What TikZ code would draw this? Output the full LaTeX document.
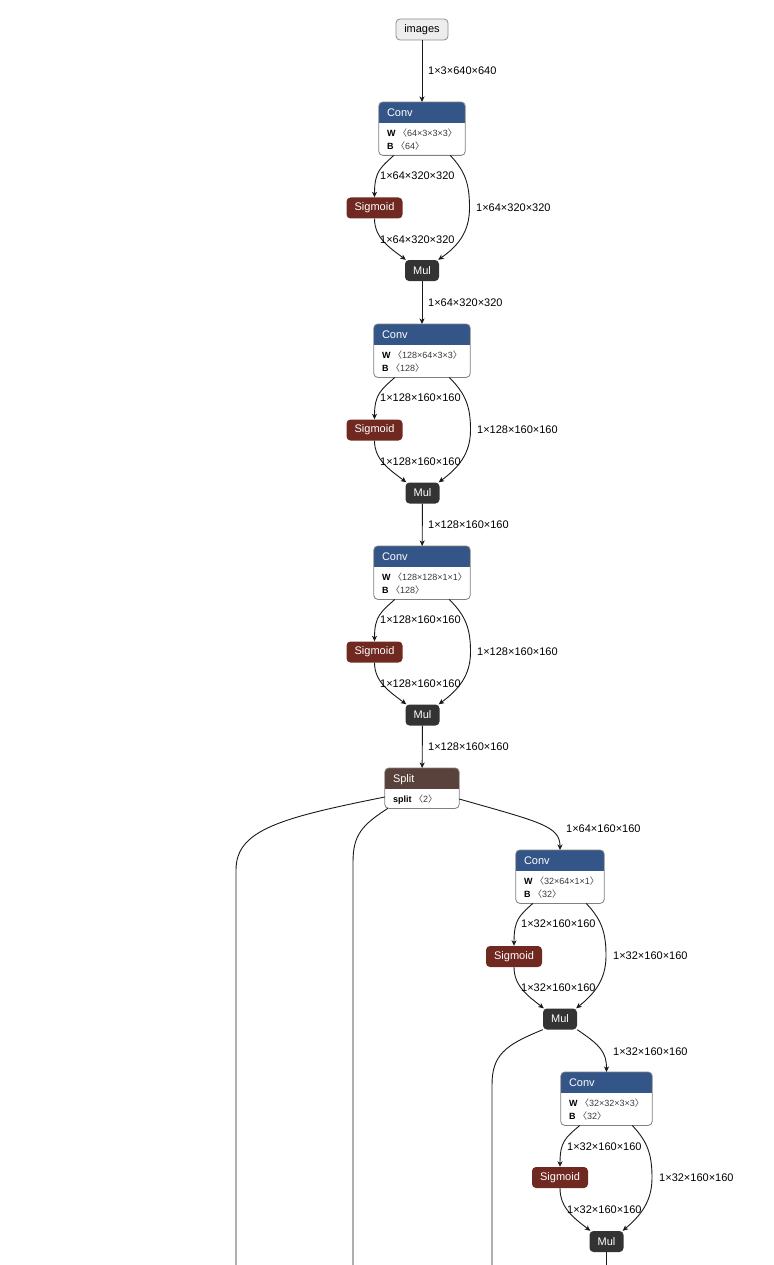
\documentclass[tikz,border=0pt]{standalone}
\usepackage{fontspec}
\setmainfont{Liberation Sans}
\newfontfamily\cjk{Noto Sans CJK SC}
\usetikzlibrary{arrows.meta}
\definecolor{convblue}{RGB}{51,85,136}
\definecolor{actred}{RGB}{112,41,33}
\definecolor{splitbrown}{RGB}{89,66,59}
\definecolor{muldark}{RGB}{51,51,51}
\newcommand\angL{{\cjk 〈}}
\newcommand\angR{{\cjk 〉}}
\newcommand\fsize[1]{\fontsize{#1}{#1}\selectfont}
\newcommand\attr[2]{\textbf{#1} {\color{black!78}\angL#2\angR}}

\tikzset{
 edge/.style={draw=black!90, line width=0.9pt, -{Stealth[length=5.5pt,width=5pt,inset=1.5pt]}},
 plain/.style={draw=black!90, line width=0.9pt},
 lbl/.style={anchor=west, inner sep=0pt, font=\fsize{11}},
 opsmall/.style={rounded corners=4pt, minimum height=21pt, inner sep=0pt, text=white, font=\fsize{11}},
 sigbox/.style={opsmall, fill=actred, minimum width=56pt},
 mulbox/.style={opsmall, fill=muldark, minimum width=34pt},
 inbox/.style={rounded corners=4pt, minimum height=21pt, minimum width=52pt, inner sep=0pt, fill=black!7, draw=black!45, line width=0.8pt, font=\fsize{11}},
 bigbox/.style={rectangle, inner sep=0pt, anchor=north},
 boxline/.style={draw=black!50, line width=0.8pt, rounded corners=4pt},
 headtxt/.style={anchor=base west, inner sep=0pt, text=white, font=\fsize{11}},
 bodytxt/.style={anchor=base west, inner sep=0pt, font=\fsize{9}},
}

% name, cx, top, width, height, colour, title, first body line
\newcommand\opnode[8]{%
 \node[bigbox, minimum width=#4, minimum height=#5] (#1) at (#2,#3) {};
 \begin{scope}
 \clip[rounded corners=4pt] (#1.north west) rectangle (#1.south east);
 \fill[#6] (#1.north west) rectangle ([yshift=-21pt]#1.north east);
 \end{scope}
 \draw[boxline] (#1.north west) rectangle (#1.south east);
 \node[headtxt] at ([xshift=8pt,yshift=-14.5pt]#1.north west) {#7};
 \node[bodytxt] at ([xshift=8pt,yshift=-34.2pt]#1.north west) {#8};
}
% name, cx, top, width, W, B
\newcommand\convnode[6]{%
 \opnode{#1}{#2}{#3}{#4}{53}{convblue}{Conv}{\attr{W}{#5}}
 \node[bodytxt] at ([xshift=8pt,yshift=-47.2pt]#1.north west) {\attr{B}{#6}};
}

\begin{document}
\begin{tikzpicture}[x=1pt,y=-1pt]
\useasboundingbox (0,0) rectangle (773,1265);

% ---------- nodes ----------
\node[inbox] (img) at (422,29.5) {images};

\convnode{conv1}{422}{102}{86}{64×3×3×3}{64}
\node[sigbox] (sig1) at (374.5,208) {Sigmoid};
\node[mulbox] (mul1) at (422,270.5) {Mul};

\convnode{conv2}{422}{324}{96}{128×64×3×3}{128}
\node[sigbox] (sig2) at (374.5,430) {Sigmoid};
\node[mulbox] (mul2) at (422.5,493) {Mul};

\convnode{conv3}{422}{546}{96}{128×128×1×1}{128}
\node[sigbox] (sig3) at (374.5,652) {Sigmoid};
\node[mulbox] (mul3) at (422.5,715) {Mul};

\opnode{split}{422}{768}{74}{40}{splitbrown}{Split}{\textbf{split} {\color{black!78}\angL2\angR}}

\convnode{conv4}{560}{850}{88}{32×64×1×1}{32}
\node[sigbox] (sig4) at (514,956.5) {Sigmoid};
\node[mulbox] (mul4) at (560,1019) {Mul};

\convnode{conv5}{606.5}{1072}{91}{32×32×3×3}{32}
\node[sigbox] (sig5) at (560,1177.5) {Sigmoid};
\node[mulbox] (mul5) at (606.5,1241.5) {Mul};

\coordinate (o1) at (236,1265);
\coordinate (o2) at (353,1265);
\coordinate (o3) at (492,1265);
\coordinate (o4) at (606.5,1265);

% ---------- block 1 ----------
\draw[edge] (img) -- (conv1);
\draw[edge] ([xshift=15pt]conv1.south west) .. controls (380,168) and (374.5,172) .. (sig1.north);
\draw[edge] ([xshift=-15pt]conv1.south east) .. controls (466,172) and (469.5,185) .. (469.5,208) .. controls (469.5,232) and (458,246) .. ([xshift=-1pt]mul1.north east);
\draw[edge] (sig1.south) .. controls (374.5,238) and (390,248) .. ([xshift=1pt]mul1.north west);
\draw[edge] (mul1) -- (conv2);
\node[lbl] at (428,71) {1×3×640×640};
\node[lbl] at (380,176) {1×64×320×320};
\node[lbl] at (476,208) {1×64×320×320};
\node[lbl] at (380,240) {1×64×320×320};
\node[lbl] at (428,303) {1×64×320×320};

% ---------- block 2 ----------
\draw[edge] ([xshift=21pt]conv2.south west) .. controls (381,390) and (374.5,394) .. (sig2.north);
\draw[edge] ([xshift=-21pt]conv2.south east) .. controls (466,394) and (470.5,407) .. (470.5,430) .. controls (470.5,454) and (458,468) .. ([xshift=-1pt]mul2.north east);
\draw[edge] (sig2.south) .. controls (374.5,460) and (390,470) .. ([xshift=1pt]mul2.north west);
\draw[edge] (mul2) -- (conv3);
\node[lbl] at (380,398) {1×128×160×160};
\node[lbl] at (477,430) {1×128×160×160};
\node[lbl] at (380,462) {1×128×160×160};
\node[lbl] at (428,525) {1×128×160×160};

% ---------- block 3 ----------
\draw[edge] ([xshift=21pt]conv3.south west) .. controls (381,612) and (374.5,616) .. (sig3.north);
\draw[edge] ([xshift=-21pt]conv3.south east) .. controls (466,616) and (470.5,629) .. (470.5,652) .. controls (470.5,676) and (458,690) .. ([xshift=-1pt]mul3.north east);
\draw[edge] (sig3.south) .. controls (374.5,682) and (390,692) .. ([xshift=1pt]mul3.north west);
\draw[edge] (mul3) -- (split);
\node[lbl] at (380,620) {1×128×160×160};
\node[lbl] at (477,652) {1×128×160×160};
\node[lbl] at (380,684) {1×128×160×160};
\node[lbl] at (428,747) {1×128×160×160};

% ---------- split ----------
\draw[plain] ([yshift=-29pt]split.north west) .. controls (280,818) and (236,830) .. (236,870) -- (o1);
\draw[plain] ([xshift=3pt]split.south west) .. controls (362,825) and (353,835) .. (353,862) -- (o2);
\draw[edge] ([yshift=-31pt]split.north east) .. controls (540,822) and (560,826) .. (conv4.north);
\node[lbl] at (566,829) {1×64×160×160};

% ---------- block 4 ----------
\draw[edge] ([xshift=17pt]conv4.south west) .. controls (519,916) and (514,920) .. (sig4.north);
\draw[edge] ([xshift=-18pt]conv4.south east) .. controls (602,920) and (606,933) .. (606,956) .. controls (606,980) and (594,994) .. ([xshift=-1pt]mul4.north east);
\draw[edge] (sig4.south) .. controls (514,986) and (528,996) .. ([xshift=1pt]mul4.north west);
\node[lbl] at (521,924) {1×32×160×160};
\node[lbl] at (613,956) {1×32×160×160};
\node[lbl] at (521,988) {1×32×160×160};

\draw[plain] (mul4.south west) .. controls (505,1045) and (492,1055) .. (492,1085) -- (o3);
\draw[edge] (mul4.south east) .. controls (600,1045) and (606.5,1052) .. (conv5.north);
\node[lbl] at (613,1052) {1×32×160×160};

% ---------- block 5 ----------
\draw[edge] ([xshift=19pt]conv5.south west) .. controls (565,1138) and (560,1142) .. (sig5.north);
\draw[edge] ([xshift=-20pt]conv5.south east) .. controls (648,1142) and (652,1155) .. (652,1178) .. controls (652,1202) and (640,1216) .. ([xshift=-1pt]mul5.north east);
\draw[edge] (sig5.south) .. controls (560,1208) and (574,1218) .. ([xshift=1pt]mul5.north west);
\node[lbl] at (567,1147) {1×32×160×160};
\node[lbl] at (659,1178) {1×32×160×160};
\node[lbl] at (567,1210) {1×32×160×160};
\draw[plain] (mul5.south) -- (o4);
\end{tikzpicture}
\end{document}
